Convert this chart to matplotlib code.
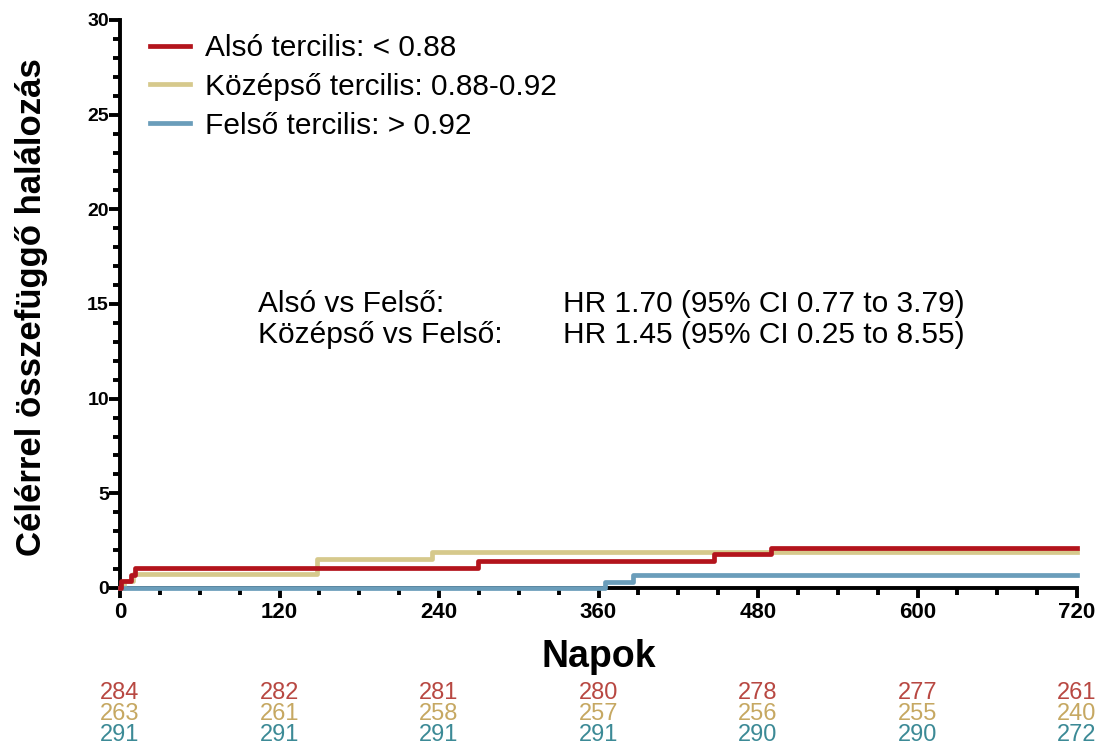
import matplotlib
matplotlib.use("Agg")
import matplotlib.pyplot as plt
import matplotlib.transforms as mtransforms
from matplotlib.ticker import MultipleLocator

plt.rcParams['font.family'] = ['Liberation Sans', 'DejaVu Sans']

# ---- data ----
series_labels = ["Alsó tercilis: < 0.88", "Középső tercilis: 0.88-0.92", "Felső tercilis: > 0.92"]
red_days = [0, 1, 8, 11, 269, 447, 490, 720]
red_vals = [0, 0.35, 0.70, 1.06, 1.41, 1.77, 2.13, 2.13]
yellow_days = [0, 3, 10, 148, 235, 720]
yellow_vals = [0, 0.38, 0.76, 1.52, 1.90, 1.90]
blue_days = [0, 365, 386, 720]
blue_vals = [0, 0.34, 0.69, 0.69]

risk_days = [0, 120, 240, 360, 480, 600, 720]
risk_red = [284, 282, 281, 280, 278, 277, 261]
risk_yellow = [263, 261, 258, 257, 256, 255, 240]
risk_blue = [291, 291, 291, 291, 290, 290, 272]

hr_labels = ["Alsó vs Felső:", "Középső vs Felső:"]
hr_values = ["HR 1.70 (95% CI 0.77 to 3.79)", "HR 1.45 (95% CI 0.25 to 8.55)"]

c_red = "#B3141C"
c_yel = "#D6C98C"
c_blu = "#6A9DBA"
t_red = "#B84842"
t_yel = "#C6A862"
t_blu = "#3C8A96"

W, H = 1105, 751
fig = plt.figure(figsize=(W / 100, H / 100), dpi=100)
ax = fig.add_axes([120 / W, 1 - 588 / H, (1077 - 120) / W, (588 - 20) / H])

l_yel, = ax.step(yellow_days, yellow_vals, where='post', color=c_yel, lw=3.4, clip_on=False, zorder=3)
l_blu, = ax.step(blue_days, blue_vals, where='post', color=c_blu, lw=3.4, clip_on=False, zorder=4)
l_red, = ax.step(red_days, red_vals, where='post', color=c_red, lw=3.4, clip_on=False, zorder=5)

ax.set_xlim(0, 720)
ax.set_ylim(0, 30)
for s in ['top', 'right']:
    ax.spines[s].set_visible(False)
for s in ['left', 'bottom']:
    ax.spines[s].set_linewidth(2.8)
ax.xaxis.set_major_locator(MultipleLocator(120))
ax.xaxis.set_minor_locator(MultipleLocator(30))
ax.yaxis.set_major_locator(MultipleLocator(5))
ax.yaxis.set_minor_locator(MultipleLocator(1))
ax.tick_params(axis='x', which='major', length=7, width=2.8, labelsize=16, pad=3)
ax.tick_params(axis='x', which='minor', length=5, width=2.8)
ax.tick_params(axis='y', which='major', length=8, width=2.8, labelsize=14, pad=0)
ax.tick_params(axis='y', which='minor', length=5, width=2.8)
for lab in ax.get_xticklabels() + ax.get_yticklabels():
    lab.set_fontweight('bold')

fig.text(32 / W, 1 - 307 / H, "Célérrel összefüggő halálozás", rotation=90,
         ha='center', va='center', fontsize=25, fontweight='bold')
fig.text(598.5 / W, 1 - 657 / H, "Napok", ha='center', va='center',
         fontsize=27, fontweight='bold')

leg = ax.legend([l_red, l_yel, l_blu], series_labels, loc='upper left',
                bbox_to_anchor=(150 / W, 1 - 34 / H), bbox_transform=fig.transFigure,
                frameon=False, fontsize=21.5, handlelength=1.35, handletextpad=0.5,
                labelspacing=0.36, borderpad=0, borderaxespad=0)

for i, (a, b) in enumerate(zip(hr_labels, hr_values)):
    y = 1 - (304 + 31 * i) / H
    fig.text(258 / W, y, a, ha='left', va='center', fontsize=21.5)
    fig.text(563 / W, y, b, ha='left', va='center', fontsize=21.5)

trans = mtransforms.blended_transform_factory(ax.transData, fig.transFigure)
rows = [(risk_red, t_red, 693), (risk_yellow, t_yel, 714), (risk_blue, t_blu, 735)]
for vals, col, ypx in rows:
    for d, v in zip(risk_days, vals):
        ax.text(d, 1 - ypx / H, str(v), transform=trans, ha='center', va='center',
                fontsize=17, color=col, clip_on=False)

fig.savefig("out.png", dpi=100)
